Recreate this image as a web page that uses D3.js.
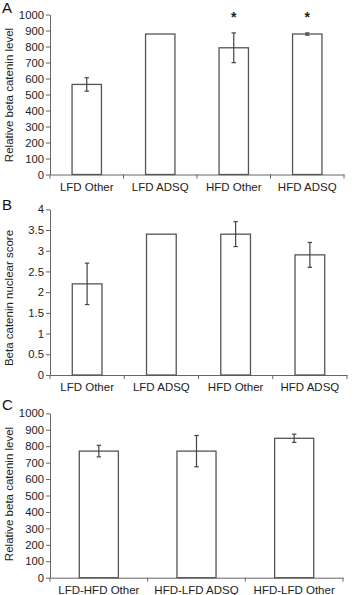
<!DOCTYPE html>
<html><head><meta charset="utf-8">
<script src="https://cdn.jsdelivr.net/npm/d3@7/dist/d3.min.js"></script>
<style>
html,body{margin:0;padding:0;background:#fff;}
svg{display:block;font-family:"Liberation Sans",Arial,sans-serif;}
</style></head><body>
<svg id="c" width="358" height="595"></svg>
<script>
// Panel A
const catsA = ["LFD Other","LFD ADSQ","HFD Other","HFD ADSQ"];
const valsA = [563, 878, 792, 878];
const errA = [42, 0, 93, 7];
const starsA = [false, false, true, true];
const ticksA = [0,100,200,300,400,500,600,700,800,900,1000];
// Panel B
const catsB = ["LFD Other","LFD ADSQ","HFD Other","HFD ADSQ"];
const valsB = [2.2, 3.4, 3.4, 2.9];
const errB = [0.5, 0, 0.3, 0.3];
const ticksB = [0,0.5,1,1.5,2,2.5,3,3.5,4];
// Panel C
const catsC = ["LFD-HFD Other","HFD-LFD ADSQ","HFD-LFD Other"];
const valsC = [770, 770, 848];
const errC = [35, 95, 25];
const ticksC = [0,100,200,300,400,500,600,700,800,900,1000];

const svg = d3.select("#c");
const axisColor = "#666";
const barColor = "#555";

function panel(o){
  const g = svg.append("g");
  const x = d3.scaleBand().domain(o.cats).range([o.x0, o.x1]).padding(0);
  const y = d3.scaleLinear().domain([0, o.max]).range([o.y0, o.y1]);
  // y axis
  const ya = d3.axisLeft(y).tickValues(o.ticks).tickSize(4).tickSizeOuter(0)
    .tickFormat(d => String(d));
  const yg = g.append("g").attr("transform", `translate(${o.x0},0)`).call(ya);
  yg.select(".domain").attr("stroke", axisColor);
  yg.selectAll(".tick line").attr("stroke", axisColor);
  yg.selectAll(".tick text").attr("font-size", 11.3).attr("fill", "#222")
    .attr("font-family", "Liberation Sans, Arial, sans-serif").attr("x", -6);
  // x axis
  const xa = d3.axisBottom(x).tickSize(0).tickSizeOuter(0);
  const xg = g.append("g").attr("transform", `translate(0,${o.y0})`).call(xa);
  xg.select(".domain").attr("stroke", axisColor);
  xg.selectAll(".tick text").attr("font-size", 11.5).attr("fill", "#222")
    .attr("font-family", "Liberation Sans, Arial, sans-serif").attr("dy", 0).attr("y", o.labY);
  const bounds = o.cats.map(c => x(c)).concat([o.x1]);
  g.selectAll(".xt").data(bounds).join("line")
    .attr("x1", d => d).attr("x2", d => d).attr("y1", o.y0).attr("y2", o.y0 + 4)
    .attr("stroke", axisColor);
  // bars
  const bw = x.bandwidth() * 0.4;
  const cx = c => x(c) + x.bandwidth() / 2;
  g.selectAll(".bar").data(o.cats).join("rect")
    .attr("x", c => cx(c) - bw / 2).attr("width", bw)
    .attr("y", (c, i) => y(o.vals[i])).attr("height", (c, i) => o.y0 - y(o.vals[i]))
    .attr("fill", "#fff").attr("stroke", barColor).attr("stroke-width", 1.3);
  // error bars
  o.cats.forEach((c, i) => {
    const e = o.errs[i];
    if (!e) return;
    const xc = cx(c), hi = y(o.vals[i] + e), lo = y(o.vals[i] - e);
    g.append("line").attr("x1", xc).attr("x2", xc).attr("y1", hi).attr("y2", lo).attr("stroke", "#444").attr("stroke-width", 1.2);
    [hi, lo].forEach(yy => g.append("line").attr("x1", xc - 2.2).attr("x2", xc + 2.2).attr("y1", yy).attr("y2", yy).attr("stroke", "#444").attr("stroke-width", 1.2));
  });
  // stars
  if (o.stars) {
    o.cats.forEach((c, i) => {
      if (o.stars[i]) g.append("text").attr("x", cx(c)).attr("y", o.starY).attr("text-anchor", "middle")
        .attr("font-size", 14).attr("font-weight", "bold").attr("fill", "#222").text("*");
    });
  }
  // y title
  g.append("text").attr("transform", `translate(${o.titleX},${o.titleY}) rotate(-90)`)
    .attr("text-anchor", "middle").attr("font-size", 11.5).attr("fill", "#222").text(o.title);
  // panel letter
  g.append("text").attr("x", o.letX).attr("y", o.letY).attr("font-size", 15).attr("fill", "#111").text(o.letter);
}

panel({cats: catsA, vals: valsA, errs: errA, stars: starsA, ticks: ticksA, max: 1000,
  x0: 50, x1: 344, y0: 174.5, y1: 14.5, labY: 16, starY: 22,
  title: "Relative beta catenin level", titleX: 13, titleY: 95, letter: "A", letX: 2, letY: 13});
panel({cats: catsB, vals: valsB, errs: errB, ticks: ticksB, max: 4,
  x0: 50, x1: 347, y0: 375, y1: 209.3, labY: 16,
  title: "Beta catenin nuclear score", titleX: 13, titleY: 298, letter: "B", letX: 2, letY: 210});
panel({cats: catsC, vals: valsC, errs: errC, ticks: ticksC, max: 1000,
  x0: 50, x1: 343, y0: 577.7, y1: 413.3, labY: 16,
  title: "Relative beta catenin level", titleX: 13, titleY: 494, letter: "C", letX: 2, letY: 410});
</script>
</body></html>
